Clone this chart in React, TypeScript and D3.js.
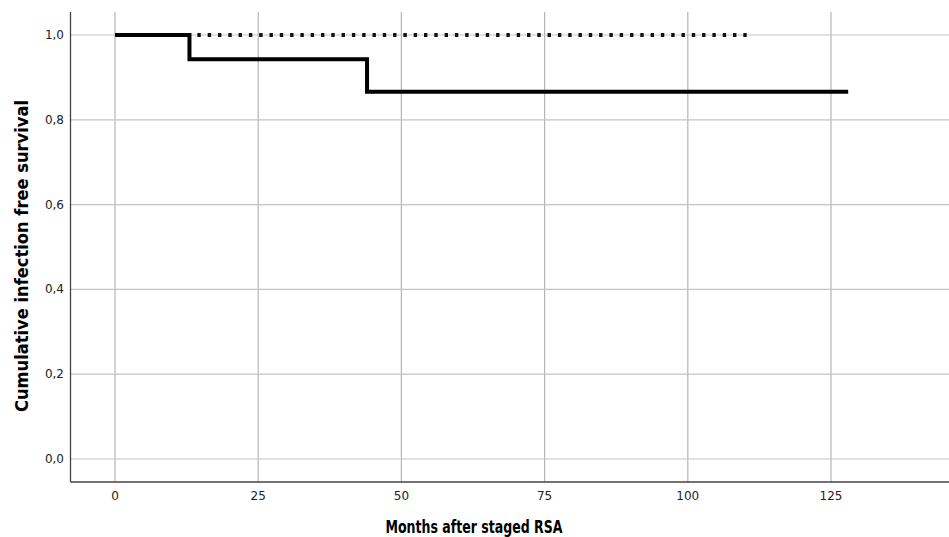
import React from "react";
import * as d3 from "d3";

const xTicks = [0, 25, 50, 75, 100, 125];
const yTicks = [0, 0.2, 0.4, 0.6, 0.8, 1.0];
// Kaplan-Meier steps: [time, survival]
const solidSteps: [number, number][] = [
  [0, 1.0],
  [13, 1.0],
  [13, 0.943],
  [44, 0.943],
  [44, 0.866],
  [128, 0.866],
];
const dottedSteps: [number, number][] = [
  [0, 1.0],
  [111, 1.0],
];

const W = 949;
const H = 537;
const left = 70.5;
const top = 12;
const bottom = 482;

export default function App() {
  const x = d3.scaleLinear().domain([0, 125]).range([115, 831]);
  const y = d3.scaleLinear().domain([0, 1]).range([459, 35]);
  const line = d3
    .line<[number, number]>()
    .x((d) => x(d[0]))
    .y((d) => y(d[1]));
  const font = "'DejaVu Sans', Verdana, sans-serif";
  return (
    <svg
      width={W}
      height={H}
      style={{ position: "absolute", left: 0, top: 0, background: "#fff" }}
    >
      {/* grid */}
      {xTicks.map((t) => (
        <line key={"gx" + t} x1={x(t)} x2={x(t)} y1={top} y2={bottom} stroke="#b5b5b5" strokeWidth={1.2} />
      ))}
      {yTicks.map((t) => (
        <line key={"gy" + t} x1={left} x2={W} y1={y(t)} y2={y(t)} stroke="#c4c4c4" strokeWidth={1.2} />
      ))}
      {/* axes */}
      <line x1={left} x2={left} y1={top} y2={bottom} stroke="#444" strokeWidth={1.3} />
      <line x1={left} x2={W} y1={bottom} y2={bottom} stroke="#444" strokeWidth={1.3} />
      {/* tick labels */}
      {xTicks.map((t) => (
        <text key={"tx" + t} x={x(t)} y={500} textAnchor="middle" fontFamily={font} fontSize={12} fill="#222">
          {t}
        </text>
      ))}
      {yTicks.map((t) => (
        <text key={"ty" + t} x={64} y={y(t) + 4} textAnchor="end" fontFamily={font} fontSize={12} fill="#222">
          {t.toFixed(1).replace(".", ",")}
        </text>
      ))}
      {/* series */}
      <path d={line(dottedSteps) || ""} fill="none" stroke="#111" strokeWidth={3.8} strokeDasharray="3.4 6.9" />
      <path d={line(solidSteps) || ""} fill="none" stroke="#000" strokeWidth={4} />
      {/* axis titles */}
      <text
        x={474}
        y={533}
        textAnchor="middle"
        fontFamily="'DejaVu Sans Condensed', 'DejaVu Sans', sans-serif"
        fontWeight="bold"
        fontSize={17}
        textLength={177}
        lengthAdjust="spacingAndGlyphs"
        fill="#000"
      >
        Months after staged RSA
      </text>
      <text
        transform="translate(28,256) rotate(-90)"
        textAnchor="middle"
        fontFamily="'DejaVu Sans Condensed', 'DejaVu Sans', sans-serif"
        fontWeight="bold"
        fontSize={17.5}
        textLength={312}
        lengthAdjust="spacingAndGlyphs"
        fill="#000"
      >
        Cumulative infection free survival
      </text>
    </svg>
  );
}
